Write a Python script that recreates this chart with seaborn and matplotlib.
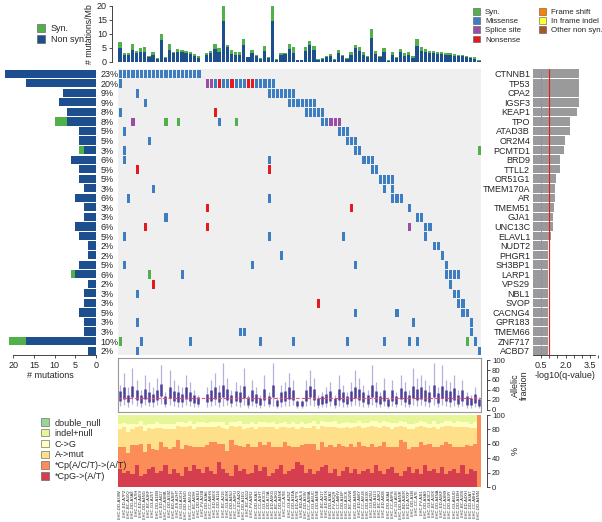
import numpy as np
import pandas as pd
import matplotlib
matplotlib.use('Agg')
from matplotlib import pyplot as plt
from matplotlib.colors import ListedColormap
from matplotlib.patches import Patch
import seaborn as sns

##### Data

genes = ['CTNNB1', 'TP53', 'CPA2', 'IGSF3', 'KEAP1', 'TPO', 'ATAD3B', 'OR2M4', 'PCMTD1', 'BRD9',
         'TTLL2', 'OR51G1', 'TMEM170A', 'AR', 'TMEM51', 'GJA1', 'UNC13C', 'ELAVL1', 'NUDT2', 'PHGR1',
         'SH3BP1', 'LARP1', 'VPS29', 'NBL1', 'SVOP', 'CACNG4', 'GPR183', 'TMEM66', 'ZNF717', 'ACBD7']
pct_labels = ['23%', '20%', '9%', '9%', '8%', '8%', '5%', '5%', '3%', '6%',
              '5%', '5%', '3%', '6%', '3%', '3%', '6%', '5%', '2%', '2%',
              '5%', '6%', '2%', '3%', '3%', '5%', '3%', '3%', '10%', '2%']
left_nonsyn = [22, 17, 8, 9, 7, 7, 4, 4, 3, 6, 4, 4, 3, 5, 3, 3, 5, 4, 2, 2,
               4, 5, 2, 3, 3, 4, 3, 3, 17, 2]
left_syn = [0, 0, 0, 0, 0, 3, 0, 0, 1, 0, 0, 0, 0, 0, 0, 0, 0, 0, 0, 0,
            0, 1, 0, 0, 0, 0, 0, 0, 4, 0]
qvals = [2.82, 2.82, 2.82, 2.82, 2.68, 2.27, 2.27, 1.96, 1.90, 1.66,
         1.66, 1.41, 1.35, 1.35, 1.31, 1.25, 1.25, 1.08, 0.94, 0.94,
         0.94, 0.94, 0.94, 0.94, 0.94, 0.94, 0.94, 0.94, 0.94, 0.94]

# mutations per gene: sample index (or range) + type (m missense, n nonsense, s splice, y syn)
gene_hits = [
    "0-19m",
    "0m 21s 22s 23m 24n 25-26m 27n 28-30m 31n 32n 33-37m",
    "4m 36-42m",
    "6m 41-47m",
    "0m 23n 45-49m",
    "3s 11y 14y 28y 24m 49-50m 51-53s",
    "1m 53-55m",
    "7m 55-57m",
    "1m 57m 58m 87y",
    "1m 36m 59-61m",
    "4n 36n 61m 62m",
    "63-66m",
    "8m 64m 66m",
    "2m 36m 66-68m",
    "21n 56n 70m",
    "11m 72m 73m",
    "6n 21n 70s 74m 75m",
    "1m 36m 54m 74m",
    "76m 77m",
    "39m 78m",
    "1m 32m 57m 79m",
    "7y 15m 79-82m",
    "8n 80m",
    "4m 81m 82m",
    "48n 82m 83m",
    "57m 67m 83m 84m",
    "4m 71m 85m",
    "29m 30m 85m",
    "0y 5m 17m 34m 42m 55m 64m 70m 72m 86m 84y",
    "4m 87m",
]

sample_ids = """LIHC-DD-A39W LIHC-ED-A7PZ LIHC-BC-A10Q LIHC-DD-A3A8 LIHC-CC-A7IH LIHC-ED-A459 LIHC-DD-A4NG LIHC-BC-A3KF LIHC-G3-A25T LIHC-DD-A1EB
LIHC-ED-A627 LIHC-CC-A3MB LIHC-DD-A39Z LIHC-BD-A3EP LIHC-ES-A2HT LIHC-G3-A3CH LIHC-DD-A4NO LIHC-CC-A5UD LIHC-BC-A69H LIHC-DD-A1EJ
LIHC-FV-A23B LIHC-DD-A3A6 LIHC-CC-A8HS LIHC-ED-A66X LIHC-DD-A114 LIHC-BC-A216 LIHC-G3-A5SK LIHC-DD-A4NJ LIHC-CC-A9FU LIHC-ED-A4XI
LIHC-DD-A1EG LIHC-BC-A112 LIHC-FV-A3R2 LIHC-DD-A3A3 LIHC-CC-A1HT LIHC-G3-A3CG LIHC-DD-A73A LIHC-ED-A5KG LIHC-BC-A3KG LIHC-DD-A4NK
LIHC-CC-A7IE LIHC-G3-A25Z LIHC-DD-A1EA LIHC-ED-A7PX LIHC-BD-A2L6 LIHC-DD-A39V LIHC-CC-A3MA LIHC-G3-A6UC LIHC-DD-A4NE LIHC-BC-A217
LIHC-ED-A97K LIHC-DD-A3A2 LIHC-FV-A2QR LIHC-CC-A8HV LIHC-DD-A1EF LIHC-G3-A3CK LIHC-BC-A10W LIHC-DD-A4NS LIHC-ED-A66Y LIHC-CC-A5UE
LIHC-DD-A39X LIHC-G3-A25U LIHC-DD-A113 LIHC-BC-A3KJ LIHC-ED-A82E LIHC-DD-A3A4 LIHC-CC-A9FS LIHC-G3-A5SI LIHC-DD-A4NR LIHC-BD-A3ER
LIHC-ED-A7XP LIHC-DD-A1EI LIHC-CC-A7II LIHC-FV-A3I1 LIHC-DD-A3A9 LIHC-G3-A3CJ LIHC-BC-A10X LIHC-DD-A4NA LIHC-ED-A5KF LIHC-CC-A3M9
LIHC-DD-A39Y LIHC-G3-A6UD LIHC-DD-A1EH LIHC-BC-A10S LIHC-ED-A4XH LIHC-DD-A3A7 LIHC-CC-A8HU LIHC-DD-A4NN""".split()

# mutations / Mb per sample
top_nonsyn = np.array("""
4.8 2.4 2.4 4.3 3.1 3.6 3.6 1.5 2.4 1.0 7.9 1.3 4.3 3.0 3.3 3.3 3.1 2.7 2.1 1.3
0 2.4 3.1 4.5 3.3 14.4 5.1 2.7 2.5 2.5 6.1 1.5 3.1 1.9 1.0 3.9 1.3 14.4 0.6 2.4
2.7 4.5 3.1 0.5 0.5 3.9 6.0 4.2 0.7 1.0 1.5 1.9 0.7 3.1 1.9 1.0 2.4 4.8 3.9 2.4
1.5 8.3 2.7 1.5 3.3 0.4 2.4 1.3 3.3 2.1 2.5 1.3 5.7 3.7 3.3 3.0 3.0 2.7 2.7 2.5
2.4 2.1 1.9 1.9 1.5 1.3 1.1 0.2""".split(), float)
top_syn = np.array("""
2.1 0.7 0.7 2.1 0.8 1.2 1.8 0.6 0.9 0.3 2.0 0.5 2.1 0.6 1.2 0.9 0.6 0.6 0.6 0.6
0 0.6 0.8 2.0 1.6 5.6 1.0 1.5 0.8 1.1 2.0 0.3 1.1 0.6 0.3 1.6 0.5 5.6 0.4 0.6
0.4 1.8 2.0 0.1 0.1 1.2 1.5 1.3 0.3 0.3 0.6 0.8 0.3 1.1 0.6 0.3 0.9 1.3 1.2 0.9
0.6 3.4 1.2 0.6 1.5 0.2 0.9 0.5 1.2 0.9 0.8 0.8 2.4 1.4 1.2 0.9 0.7 0.6 0.6 0.6
0.6 0.6 0.6 0.6 0.6 0.5 0.4 0.4""".split(), float)

# allelic fraction per sample (whisker low, box low, box high, whisker high)
af_lo = np.array("""8 10 6 12 8 5 10 7 6 9 12 5 10 8 6 6 9 8 5 5
0 6 8 10 6 8 9 5 8 6 10 4 8 5 4 8 5 8 3 6 8 8 9 3 3 7 10 8 4 5
5 8 4 8 6 5 8 10 8 6 5 10 6 5 7 3 7 5 9 6 5 10 8 9 7 6 10 5 9 7
6 8 5 7 4 4 6 3""".split(), float)
af_q1 = np.array("""18 22 15 25 20 14 22 16 15 20 28 12 24 18 16 15 22 18 14 12
0 15 18 22 16 25 20 14 18 16 24 10 18 14 10 20 12 26 8 16 18 22 20 8 8 18 26 20 10 12
14 18 10 20 16 12 18 24 20 16 12 26 16 12 18 8 18 12 22 16 12 24 20 22 18 16 26 14 24 18
16 20 12 18 10 10 14 8""".split(), float)
af_q3 = np.array("""38 45 30 48 40 30 42 35 32 40 52 28 45 38 35 32 45 36 30 25
0 32 40 45 35 50 42 30 38 35 48 25 40 32 24 42 28 50 20 35 38 45 40 18 18 40 48 42 24 28
32 38 24 42 35 28 38 46 42 36 30 50 38 28 40 22 40 28 44 38 30 48 42 45 40 36 50 34 48 40
38 44 30 40 28 24 32 22""".split(), float)
af_hi = np.array("""50 75 45 85 60 40 70 55 45 65 90 35 80 60 50 45 70 55 40 30
0 45 60 75 50 95 65 40 55 50 85 30 60 45 30 70 35 95 25 50 55 75 60 20 20 60 80 65 30 35
45 55 30 70 50 35 55 80 65 50 40 90 55 35 65 25 60 35 70 55 40 85 65 70 60 50 95 45 90 60
55 70 40 60 35 30 45 25""".split(), float)

# mutation spectrum per sample (% of mutations)
sp_cpg = np.array("""25 20 22 18 30 15 18 25 28 20 22 30 18 25 20 15 28 22 30 25
20 28 22 18 35 25 20 15 30 22 25 18 20 30 22 28 15 20 25 30 18 22 25 35 30 20 25 18 22 28
30 20 25 15 22 28 20 25 18 22 25 20 30 22 18 25 28 20 15 22 28 20 25 18 30 22 25 20 28 18
22 25 20 30 18 25 22 0""".split(), float)
sp_cpa = np.array("""30 35 25 40 28 45 30 35 25 32 40 25 35 30 45 38 30 35 25 30
35 30 40 45 25 35 30 50 28 35 30 42 35 25 40 30 48 35 30 25 45 35 30 20 28 40 35 42 30 35
25 38 30 45 35 28 40 30 45 35 30 40 25 35 45 30 28 35 50 40 25 35 30 45 28 38 30 35 30 45
38 30 35 25 40 32 38 100""".split(), float)
sp_amut = np.array("""25 28 30 22 25 25 30 22 28 30 20 25 28 25 20 30 25 28 25 28
28 25 22 20 25 22 30 20 25 28 25 22 28 25 22 25 20 28 25 28 20 25 28 25 25 22 22 25 28 22
28 25 28 22 25 28 22 28 22 25 28 25 28 25 22 28 25 28 20 22 28 25 28 22 25 22 28 25 25 22
25 28 28 28 25 25 22 0""".split(), float)
sp_cg = np.array("""8 6 10 7 5 6 8 6 7 8 6 8 7 8 5 7 6 6 8 7
7 6 6 7 5 8 6 5 7 6 8 6 7 8 6 7 6 7 8 6 7 6 7 8 7 6 7 6 8 6
7 7 8 6 7 6 7 6 6 7 6 7 8 7 6 7 8 6 7 6 7 8 6 7 7 6 8 7 6 7
7 6 8 7 7 6 8 0""".split(), float)

N = len(sample_ids)
assert len(set(sample_ids)) == N
assert all(len(a) == N for a in [top_nonsyn, top_syn, af_lo, af_q1, af_q3, af_hi,
                                  sp_cpg, sp_cpa, sp_amut, sp_cg])

##### Colours

C_NONSYN = '#1D4F8F'
C_SYN = '#52B04A'
C_MISS = '#3C7EC1'
C_SPLICE = '#984EA3'
C_NONSENSE = '#E41A1C'
C_FS = '#FF7F00'
C_INFRAME = '#FFFF33'
C_OTHER = '#A65628'
BG = '#EFEFEF'
SPEC = ['#99D594', '#E6F598', '#FFFFBF', '#FEE08B', '#FC8D59', '#D53E4F']
SPEC_LABELS = ['double_null', 'indel+null', 'C->G', 'A->mut', '*Cp(A/C/T)->(A/T)', '*CpG->(A/T)']

##### Build the mutation matrix

code = {'y': 1, 'm': 2, 's': 3, 'n': 4}
mat = np.zeros((len(genes), N))
for g, hits in enumerate(gene_hits):
    for tok in hits.split():
        rng, kind = tok[:-1], tok[-1]
        if '-' in rng:
            a, b = rng.split('-')
            idx = range(int(a), int(b) + 1)
        else:
            idx = [int(rng)]
        for i in idx:
            mat[g, i] = code[kind]

##### Figure

sns.set_theme(style='white')
plt.rcParams['font.family'] = ['Liberation Sans', 'DejaVu Sans']
plt.rcParams['axes.linewidth'] = 0.6

W, H = 602, 522


def box(x0, y0, x1, y1):
    return [x0 / W, 1 - y1 / H, (x1 - x0) / W, (y1 - y0) / H]


fig = plt.figure(figsize=(6.02, 5.22), dpi=100)
ROW_TOP, ROW_BOT = 68.9, 355.4
MX0, MX1 = 118, 481

ax_top = fig.add_axes(box(MX0, 5.7, MX1, 61.7))
ax_mat = fig.add_axes(box(MX0, ROW_TOP, MX1, ROW_BOT))
ax_left = fig.add_axes(box(5, ROW_TOP, 96, ROW_BOT))
ax_q = fig.add_axes(box(533, ROW_TOP, 598, ROW_BOT))
ax_af = fig.add_axes(box(MX0, 358.3, MX1, 411.5))
ax_sp = fig.add_axes(box(MX0, 415, MX1, 487))

FS = 6.5
tick_kw = dict(labelsize=FS, length=2.5, width=0.6, color='#333333', pad=1.5)
small_kw = dict(labelsize=5.6, length=2.5, width=0.6, color='#333333', pad=1.5)

# top: mutation rate
top = pd.DataFrame({'sample': sample_ids, 'nonsyn': top_nonsyn, 'total': top_nonsyn + top_syn})
sns.barplot(data=top, x='sample', y='total', color=C_SYN, width=0.8, saturation=1,
            errorbar=None, linewidth=0, ax=ax_top)
sns.barplot(data=top, x='sample', y='nonsyn', color=C_NONSYN, width=0.8, saturation=1,
            errorbar=None, linewidth=0, ax=ax_top)
ax_top.set_xlim(-0.5, N - 0.5)
ax_top.set_ylim(0, 20)
ax_top.set_xticks([])
ax_top.set_xlabel('')
ax_top.set_yticks([0, 5, 10, 15, 20])
ax_top.set_ylabel('# mutations/Mb', fontsize=6.3, labelpad=2)
for s in ['top', 'right', 'bottom']:
    ax_top.spines[s].set_visible(False)
ax_top.spines['left'].set_position(('outward', 4))
ax_top.tick_params(axis='y', left=True, **tick_kw)

# matrix
cmap = ListedColormap([C_SYN, C_MISS, C_SPLICE, C_NONSENSE])
sns.heatmap(pd.DataFrame(mat, index=genes), mask=mat == 0, cmap=cmap, vmin=0.5, vmax=4.5,
            cbar=False, linewidths=0.5, linecolor=BG, xticklabels=False, yticklabels=False,
            ax=ax_mat)
ax_mat.set_facecolor(BG)
ax_mat.set_xlabel('')
ax_mat.set_ylabel('')

# left: number of mutations per gene
left = pd.DataFrame({'gene': genes, 'nonsyn': left_nonsyn,
                     'total': np.array(left_nonsyn) + np.array(left_syn)})
sns.barplot(data=left, y='gene', x='total', orient='h', color=C_SYN, width=0.86,
            saturation=1, errorbar=None, linewidth=0, ax=ax_left)
sns.barplot(data=left, y='gene', x='nonsyn', orient='h', color=C_NONSYN, width=0.86,
            saturation=1, errorbar=None, linewidth=0, ax=ax_left)
ax_left.set_xlim(22, 0)
ax_left.set_ylim(len(genes) - 0.5, -0.5)
ax_left.yaxis.tick_right()
ax_left.set_yticks(range(len(genes)))
ax_left.set_yticklabels(pct_labels)
ax_left.tick_params(axis='y', length=0, pad=3, labelsize=FS)
ax_left.set_ylabel('')
ax_left.set_xticks([20, 15, 10, 5, 0])
ax_left.set_xlabel('# mutations', fontsize=6.5, labelpad=1)
for s in ['top', 'right', 'left']:
    ax_left.spines[s].set_visible(False)
ax_left.spines['bottom'].set_bounds(0, 20)
ax_left.tick_params(axis='x', bottom=True, **tick_kw)

# right: q-values
qdf = pd.DataFrame({'gene': genes, 'q': qvals})
sns.barplot(data=qdf, y='gene', x='q', orient='h', color='#9A9A9A', width=0.9,
            saturation=1, errorbar=None, linewidth=0, ax=ax_q)
ax_q.axvline(0.5, color='#8080D0', lw=0.8, ls=':')
ax_q.axvline(1.0, color='#E41A1C', lw=0.8)
ax_q.set_xlim(0, 4)
ax_q.set_ylim(len(genes) - 0.5, -0.5)
ax_q.set_yticks(range(len(genes)))
ax_q.set_yticklabels(genes)
ax_q.tick_params(axis='y', length=0, pad=2, labelsize=FS)
ax_q.set_ylabel('')
ax_q.set_xticks(np.arange(0.5, 4.01, 0.5))
ax_q.set_xticklabels(['0.5', '', '', '2.0', '', '', '3.5', ''])
ax_q.set_xlabel('-log10(q-value)', fontsize=6.5, labelpad=1)
for s in ['top', 'right', 'left']:
    ax_q.spines[s].set_visible(False)
ax_q.spines['bottom'].set_bounds(0, 3.8)
ax_q.tick_params(axis='x', bottom=True, **tick_kw)

# allelic fraction
xs = np.arange(N)
has = af_hi > 0
ax_af.vlines(xs[has], af_lo[has], af_hi[has], color='#B3B0DE', lw=0.9)
ax_af.vlines(xs[has], af_q1[has], af_q3[has], color='#4E3F99', lw=1.8)
ax_af.axhline(23, color='#E8506A', lw=0.8, ls=(0, (3, 2)))
ax_af.set_xlim(-0.5, N - 0.5)
ax_af.set_ylim(-4, 104)
ax_af.set_xticks([])
ax_af.set_yticks([])
for s in ax_af.spines.values():
    s.set_color('#999999')
    s.set_linewidth(0.8)
ax_af2 = ax_af.twinx()
ax_af2.set_ylim(-4, 104)
ax_af2.set_yticks([0, 20, 40, 60, 80, 100])
for s in ['top', 'left', 'bottom']:
    ax_af2.spines[s].set_visible(False)
ax_af2.spines['right'].set_position(('outward', 4))
ax_af2.spines['right'].set_bounds(0, 100)
ax_af2.tick_params(axis='y', right=True, **small_kw)
ax_af2.set_ylabel('Allelic\nfraction', fontsize=6.5, labelpad=4, linespacing=1.0)

# mutation spectrum, stacked from the bottom
c1 = sp_cpg
c2 = c1 + sp_cpa
c3 = c2 + sp_amut
c4 = c3 + sp_cg
spec = pd.DataFrame({'sample': sample_ids, 'full': 100.0, 'c4': c4, 'c3': c3, 'c2': c2, 'c1': c1})
for col, colour in zip(['full', 'c4', 'c3', 'c2', 'c1'], SPEC[1:]):
    sns.barplot(data=spec, x='sample', y=col, color=colour, width=1.0, saturation=1,
                errorbar=None, linewidth=0, ax=ax_sp)
ax_sp.set_xlim(-0.5, N - 0.5)
ax_sp.set_ylim(0, 100)
ax_sp.set_xlabel('')
ax_sp.set_ylabel('')
ax_sp.set_yticks([])
ax_sp.set_xticks(range(N))
ax_sp.set_xticklabels(sample_ids, rotation=90, fontsize=3.0)
ax_sp.tick_params(axis='x', length=0, pad=1.5)
for s in ax_sp.spines.values():
    s.set_visible(False)
ax_sp2 = ax_sp.twinx()
ax_sp2.set_ylim(0, 100)
ax_sp2.set_yticks([0, 20, 40, 60, 80, 100])
for s in ['top', 'left', 'bottom']:
    ax_sp2.spines[s].set_visible(False)
ax_sp2.spines['right'].set_position(('outward', 4))
ax_sp2.tick_params(axis='y', right=True, **small_kw)
ax_sp2.set_ylabel('%', fontsize=6.5, labelpad=4)

# legends
leg_kw = dict(loc='upper left', frameon=False, handlelength=0.9, handleheight=0.9,
              handletextpad=0.6, borderpad=0, borderaxespad=0)


def patches(pairs):
    return [Patch(facecolor=c, edgecolor='#555555', lw=0.4, label=l) for c, l in pairs]


fig.legend(handles=patches([(C_SYN, 'Syn.'), (C_NONSYN, 'Non syn.')]),
           bbox_to_anchor=(37 / W, 1 - 24 / H), fontsize=FS, labelspacing=0.25, **leg_kw)
fig.legend(handles=patches([(C_SYN, 'Syn.'), (C_MISS, 'Missense'), (C_SPLICE, 'Splice site'),
                            (C_NONSENSE, 'Nonsense')]),
           bbox_to_anchor=(473 / W, 1 - 8 / H), fontsize=5.7, labelspacing=0.15, **leg_kw)
fig.legend(handles=patches([(C_FS, 'Frame shift'), (C_INFRAME, 'In frame indel'),
                            (C_OTHER, 'Other non syn.')]),
           bbox_to_anchor=(539 / W, 1 - 8 / H), fontsize=5.7, labelspacing=0.15, **leg_kw)
fig.legend(handles=patches(zip(SPEC, SPEC_LABELS)),
           bbox_to_anchor=(41 / W, 1 - 418 / H), fontsize=FS, labelspacing=0.2, **leg_kw)

fig.savefig('out.png', dpi=100)
